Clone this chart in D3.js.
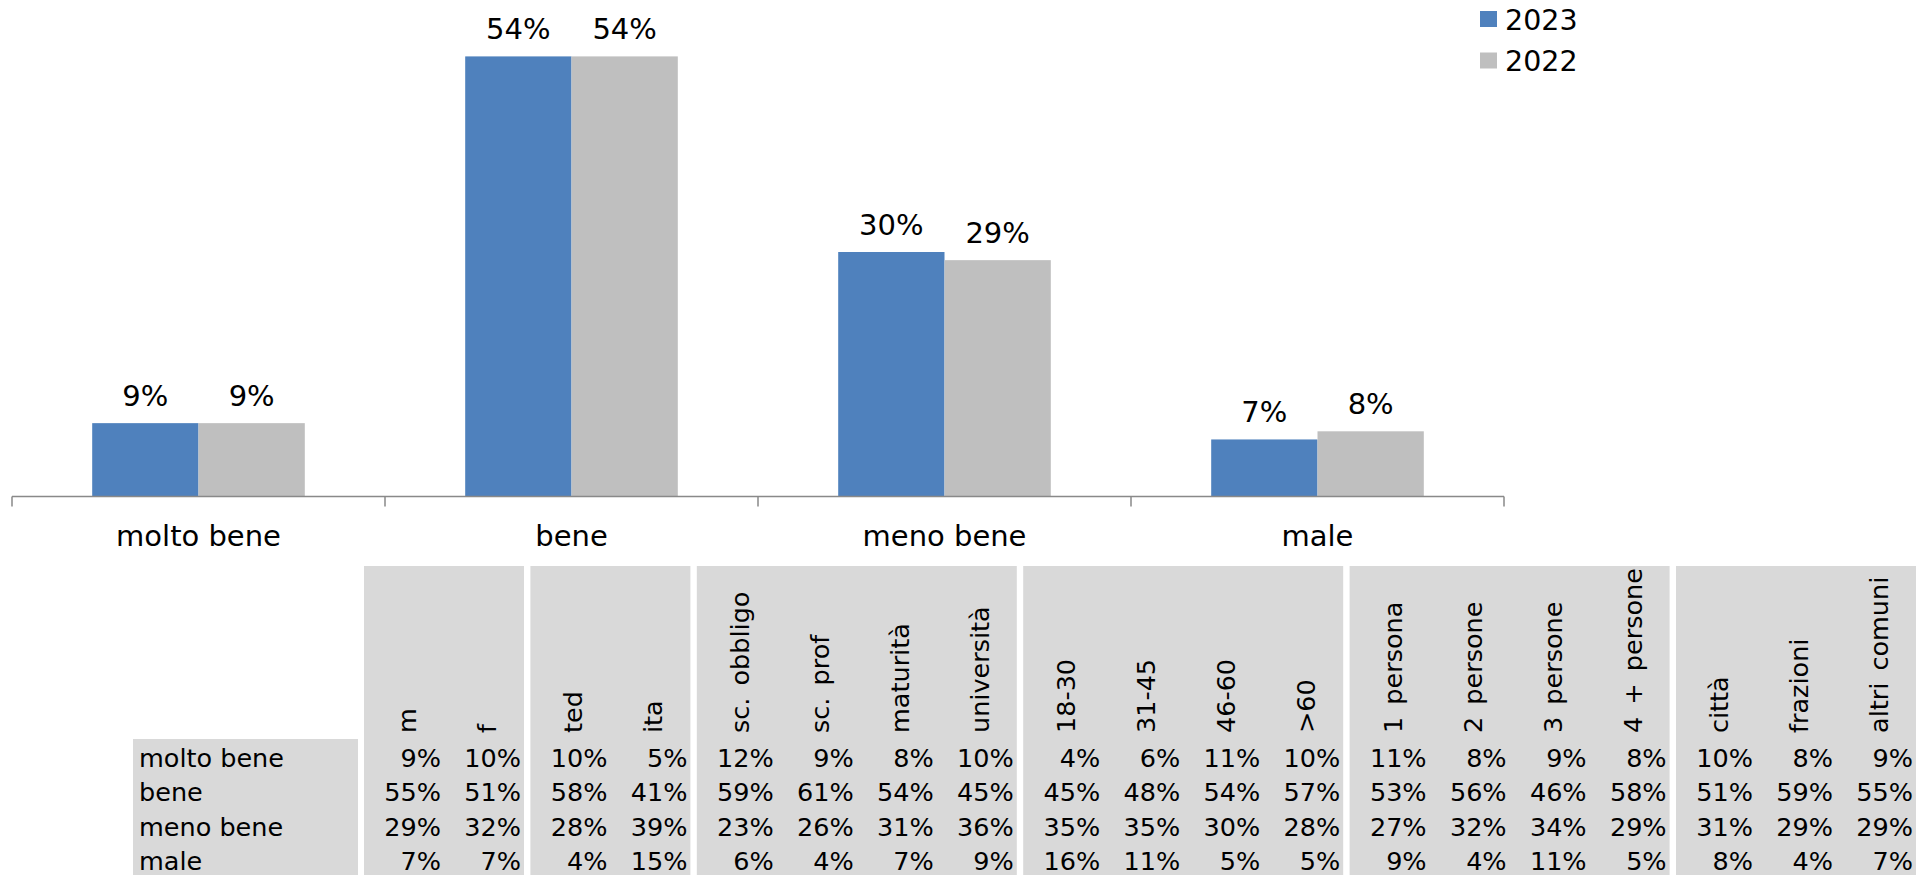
<!DOCTYPE html>
<html>
<head>
<meta charset="utf-8">
<script src="https://cdn.jsdelivr.net/npm/d3@7/dist/d3.min.js"></script>
<style>
  html, body { margin: 0; padding: 0; background: #fff; }
  svg { display: block; font-family: "DejaVu Sans", Verdana, sans-serif; }
</style>
</head>
<body>
<svg id="chart" width="1931" height="875"></svg>
<script>
// ---------- data ----------
const categories = ["molto bene", "bene", "meno bene", "male"];
const seriesNames = ["2023", "2022"];
const values2023 = [0.09, 0.54, 0.30, 0.07];
const values2022 = [0.09, 0.54, 0.29, 0.08];

const tableColumns = ["m", "f", "ted", "ita",
  "sc. obbligo", "sc. prof", "maturità", "università",
  "18-30", "31-45", "46-60", ">60",
  "1 persona", "2 persone", "3 persone", "4 + persone",
  "città", "frazioni", "altri comuni"];
const columnGroupSizes = [2, 2, 4, 4, 4, 3];
const rowMoltoBene = [9, 10, 10, 5, 12, 9, 8, 10, 4, 6, 11, 10, 11, 8, 9, 8, 10, 8, 9];
const rowBene      = [55, 51, 58, 41, 59, 61, 54, 45, 45, 48, 54, 57, 53, 56, 46, 58, 51, 59, 55];
const rowMenoBene  = [29, 32, 28, 39, 23, 26, 31, 36, 35, 35, 30, 28, 27, 32, 34, 29, 31, 29, 29];
const rowMale      = [7, 7, 4, 15, 6, 4, 7, 9, 16, 11, 5, 5, 9, 4, 11, 5, 8, 4, 7];

const colors = { "2023": "#4F81BD", "2022": "#BFBFBF" };

// ---------- chart ----------
const svg = d3.select("#chart");
const series = [values2023, values2022];

const x = d3.scaleBand().domain(categories).range([12, 1504])
  .paddingInner(0.43).paddingOuter(0.215);
const xs = d3.scaleBand().domain(seriesNames).range([0, x.bandwidth()]);
const y = d3.scaleLinear().domain([0, 0.6]).range([496.5, 7.5]);

const fmt = d3.format(".0%");

const g = svg.append("g");
seriesNames.forEach((s, si) => {
  const data = categories.map((c, i) => ({ c, v: series[si][i] }));
  g.selectAll(null).data(data).enter().append("rect")
    .attr("x", d => x(d.c) + xs(s))
    .attr("y", d => y(d.v))
    .attr("width", xs.bandwidth())
    .attr("height", d => y(0) - y(d.v))
    .attr("fill", colors[s]);
  g.selectAll(null).data(data).enter().append("text")
    .attr("x", d => x(d.c) + xs(s) + xs.bandwidth() / 2)
    .attr("y", d => y(d.v) - 17)
    .attr("text-anchor", "middle")
    .attr("font-size", 29)
    .attr("fill", "#000")
    .text(d => fmt(d.v));
});

// category axis
const axis = d3.axisBottom(x).tickSize(0).tickPadding(0);
const ax = svg.append("g").attr("transform", `translate(0,${y(0)})`).call(axis);
ax.select(".domain").remove();
ax.selectAll("text")
  .attr("font-family", "DejaVu Sans, Verdana, sans-serif")
  .attr("font-size", 29)
  .attr("fill", "#000")
  .attr("dy", null)
  .attr("y", 49.5);

// baseline + boundary ticks
const step = x.step();
const bounds = categories.map(c => x(c) - step * x.paddingInner() / 2);
bounds.push(x(categories[categories.length - 1]) + x.bandwidth() + step * x.paddingInner() / 2);
svg.append("line")
  .attr("x1", bounds[0]).attr("x2", bounds[bounds.length - 1])
  .attr("y1", y(0)).attr("y2", y(0))
  .attr("stroke", "#898989").attr("stroke-width", 1.5);
svg.selectAll(null).data(bounds).enter().append("line")
  .attr("x1", d => d).attr("x2", d => d)
  .attr("y1", y(0)).attr("y2", y(0) + 10)
  .attr("stroke", "#898989").attr("stroke-width", 1.5);

// legend
const legend = svg.append("g");
seriesNames.forEach((s, i) => {
  legend.append("rect")
    .attr("x", 1480).attr("y", 11 + i * 41.5)
    .attr("width", 17).attr("height", 16)
    .attr("fill", colors[s]);
  legend.append("text")
    .attr("x", 1505).attr("y", 29.5 + i * 41.5)
    .attr("font-size", 28.5).attr("fill", "#000")
    .text(s);
});

// ---------- table ----------
const tableRows = [rowMoltoBene, rowBene, rowMenoBene, rowMale];
const colW = 80, groupGap = 6.4, tableLeft = 364;
const headerTop = 566, dataTop = 739, tableBottom = 876;
const rowY = d3.scaleBand().domain(categories).range([dataTop, tableBottom]);

// column positions
const colGroup = [];
columnGroupSizes.forEach((n, gi) => { for (let k = 0; k < n; k++) colGroup.push(gi); });
const colX = i => tableLeft + i * colW + colGroup[i] * groupGap;

const t = svg.append("g");
// row label block
t.append("rect").attr("x", 133).attr("y", dataTop)
  .attr("width", 225).attr("height", tableBottom - dataTop).attr("fill", "#D9D9D9");
// group blocks
let startIdx = 0;
columnGroupSizes.forEach(n => {
  t.append("rect").attr("x", colX(startIdx)).attr("y", headerTop)
    .attr("width", n * colW).attr("height", tableBottom - headerTop)
    .attr("fill", "#D9D9D9");
  startIdx += n;
});

// rotated headers
t.selectAll(null).data(tableColumns).enter().append("text")
  .attr("transform", (d, i) => `translate(${colX(i) + colW / 2 + 12},733) rotate(-90)`)
  .attr("font-size", 25.5)
  .attr("word-spacing", 4)
  .attr("fill", "#000")
  .text(d => d);

// row labels
t.selectAll(null).data(categories).enter().append("text")
  .attr("x", 139).attr("y", d => rowY(d) + 28)
  .attr("font-size", 25.5).attr("fill", "#000")
  .text(d => d);

// cells
tableRows.forEach((row, ri) => {
  t.selectAll(null).data(row).enter().append("text")
    .attr("x", (d, i) => colX(i) + colW - 3)
    .attr("y", rowY(categories[ri]) + 28)
    .attr("text-anchor", "end")
    .attr("font-size", 25.5).attr("fill", "#000")
    .text(d => d + "%");
});
</script>
</body>
</html>
